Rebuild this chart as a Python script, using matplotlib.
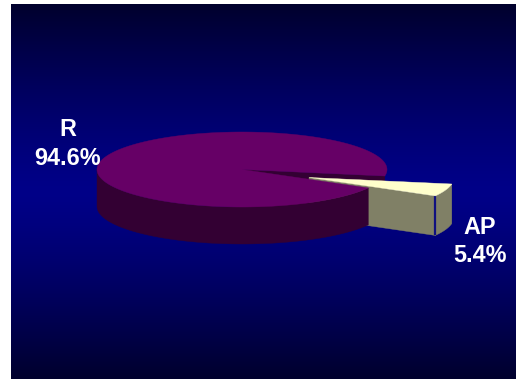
import numpy as np
import matplotlib
matplotlib.use('Agg')
import matplotlib.pyplot as plt
from matplotlib.patches import Polygon

categories = ['R', 'AP']
values = [94.6, 5.4]

W, H = 516, 379
cx, cy, rx, ry = 242.0, 169.5, 145.0, 37.5   # main pie top ellipse
depth = 37.0
ap_depth = 39.5
ex, ey = 67.0, 8.0                           # explode offset of the AP slice
end_angle = -10.0                            # AP slice upper edge, degrees


def rim(a1, a2, x0, y0, dy=0.0, n=80):
    # points on the ellipse, screen y points down so sin is negated
    t = np.radians(np.linspace(a1, a2, n))
    return np.column_stack([x0 + rx * np.cos(t), y0 - ry * np.sin(t) + dy])


def wall(a1, a2, x0, y0, d, color, z):
    top = rim(a1, a2, x0, y0)
    bot = rim(a1, a2, x0, y0, d)
    ax.add_patch(Polygon(np.vstack([top, bot[::-1]]), closed=True, fc=color, ec=color, lw=0.3, zorder=z))


fig = plt.figure(figsize=(W / 100, H / 100), dpi=100, facecolor='white')
ax = fig.add_axes([0, 0, 1, 1])

# background panel, dark - blue - dark
ys = np.linspace(0, 1, 256)
shade = np.abs(ys - 0.5) * 2
grad = np.zeros((256, 1, 3))
grad[:, 0, 2] = (136 - (136 - 45) * shade ** 1.3) / 255
ax.imshow(grad, extent=[11, W, H, 4], aspect='auto', zorder=0)
ax.set_xlim(0, W)
ax.set_ylim(H, 0)
ax.axis('off')

ap_sweep = values[1] / sum(values) * 360
a_hi = end_angle
a_lo = end_angle - ap_sweep
wx, wy = cx + ex, cy + ey

top_dark = '#660066'
side_dark = '#330033'

# AP slice walls, these sit behind the main pie
wf = rim(a_lo, a_lo, wx, wy, n=1)[0]
ax.add_patch(Polygon([(wx, wy), wf, wf + [0, ap_depth], (wx, wy + ap_depth)], closed=True,
                     fc='#808066', ec='#808066', lw=0.3, zorder=2))
wall(a_lo, a_hi, wx, wy, ap_depth, '#808066', 2)
ax.plot([wf[0], wf[0]], [wf[1], wf[1] + ap_depth], color='#101080', lw=1.6, zorder=2.5, solid_capstyle='butt')

# main pie, cut face first then wall then top
rh = rim(a_hi, a_hi, cx, cy, n=1)[0]
ax.add_patch(Polygon([(cx, cy), rh, rh + [0, depth], (cx, cy + depth)], closed=True,
                     fc=side_dark, ec=side_dark, lw=0.3, zorder=1))
wall(-180, a_lo, cx, cy, depth, side_dark, 3)
top = rim(a_hi, a_lo + 360, cx, cy, n=300)
ax.add_patch(Polygon(np.vstack([[(cx, cy)], top]), closed=True, fc=top_dark, ec=top_dark, lw=0.3, zorder=4))

# AP slice top goes over the main pie
wtop = rim(a_lo, a_hi, wx, wy, n=30)
ax.add_patch(Polygon(np.vstack([[(wx, wy)], wtop]), closed=True, fc='#FFFFCC', ec='#FFFFCC', lw=0.3, zorder=5))

font = dict(color='white', fontsize=16.8, fontweight='bold', family='Liberation Sans',
            ha='center', va='center', zorder=6, linespacing=1.33)
ax.text(67.5, 144, f'{categories[0]}\n{values[0]}%', **font)
ax.text(480, 241.5, f'{categories[1]}\n{values[1]}%', **font)

fig.savefig('out.png', dpi=100, facecolor='white')
